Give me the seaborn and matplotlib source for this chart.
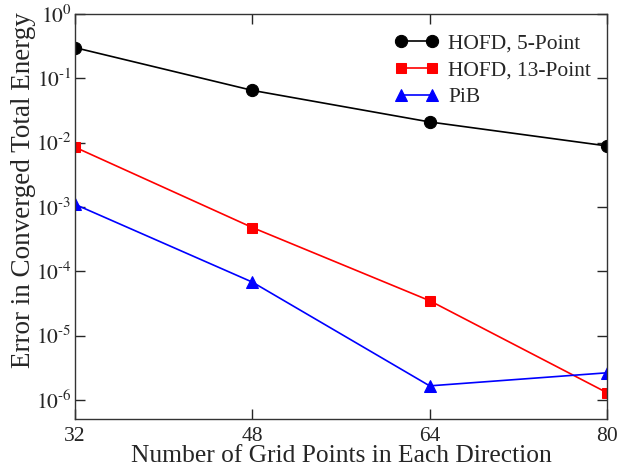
import matplotlib
matplotlib.use("Agg")
import matplotlib.pyplot as plt
import seaborn as sns
import pandas as pd
import numpy as np
from matplotlib.ticker import FixedLocator, FuncFormatter, NullLocator

grid_points = [32, 48, 64, 80]
hofd5 = [0.30, 0.065, 0.021, 0.0089]
hofd13 = [0.0085, 4.8e-4, 3.5e-5, 1.3e-6]
pib = [1.1e-3, 6.8e-5, 1.66e-6, 2.65e-6]
series_names = ["HOFD, 5-Point", "HOFD, 13-Point", "PiB"]
y_ticks = [1e-6, 1e-5, 1e-4, 1e-3, 1e-2, 1e-1, 1e0]

df = pd.DataFrame({
    "N": grid_points * 3,
    "err": hofd5 + hofd13 + pib,
    "series": [series_names[0]] * 4 + [series_names[1]] * 4 + [series_names[2]] * 4,
})

sns.set_style("ticks")
plt.rcParams["font.family"] = ["Liberation Serif", "DejaVu Serif"]
plt.rcParams["mathtext.fontset"] = "stix"

fig = plt.figure(figsize=(6.19, 4.70), dpi=100)
ax = fig.add_axes([0.1212, 0.1085, 0.9806 - 0.1212, 0.9702 - 0.1085])

palette = {series_names[0]: "black", series_names[1]: "#ff0000", series_names[2]: "#0000ff"}
markers = {series_names[0]: "o", series_names[1]: "s", series_names[2]: "^"}
sizes = {series_names[0]: 8.8, series_names[1]: 7.8, series_names[2]: 9}

for name in series_names:
    sub = df[df["series"] == name]
    sns.lineplot(data=sub, x="N", y="err", ax=ax, color=palette[name],
                 marker=markers[name], markersize=sizes[name],
                 markeredgecolor=palette[name], linewidth=1.2, label=name)


def fmt(v, p):
    e = int(round(np.log10(v)))
    if e < 0:
        return r"$10^{\text{-}%d}$" % (-e)
    return r"$10^{%d}$" % e


ax.set_yscale("log")
ax.set_xlim(32, 80)
ax.set_ylim(10 ** -6.295, 1.0)
ax.xaxis.set_major_locator(FixedLocator(grid_points))
ax.yaxis.set_major_locator(FixedLocator(y_ticks))
ax.yaxis.set_minor_locator(NullLocator())
ax.yaxis.set_major_formatter(FuncFormatter(fmt))
ax.tick_params(axis="both", which="major", direction="in", length=7, width=1,
               top=True, right=True, labelsize=15.5)
ax.tick_params(axis="y", pad=2.5)
ax.tick_params(axis="x", pad=6)
for s in ax.spines.values():
    s.set_linewidth(1.0)
    s.set_color("#333333")

ax.set_xlabel("Number of Grid Points in Each Direction", fontsize=18.4, labelpad=-1)
ax.set_ylabel("Error in Converged Total Energy", fontsize=19.5)
ax.yaxis.set_label_coords(-0.074, 0.565)

leg = ax.legend(loc="upper left", frameon=False, fontsize=15.5, numpoints=2,
                handlelength=2.0, handletextpad=0.47, labelspacing=0.33,
                borderaxespad=0.0, borderpad=0.0, bbox_to_anchor=(0.6015, 0.953))

fig.savefig("out.png", dpi=100)
